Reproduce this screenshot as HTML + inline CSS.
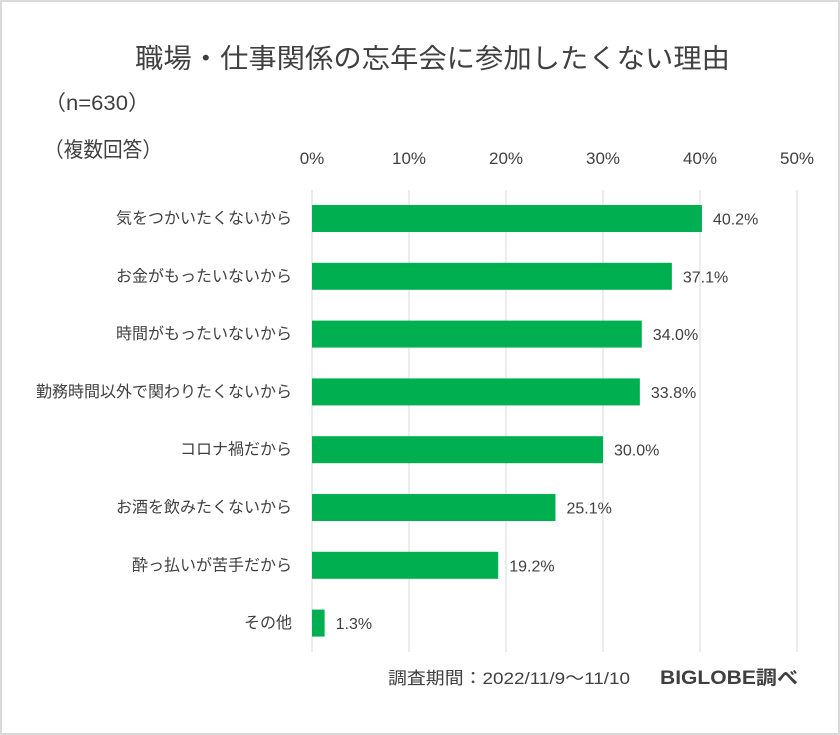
<!DOCTYPE html>
<html><head><meta charset="utf-8"><style>
html,body{margin:0;padding:0;background:#fff;}
svg{display:block;font-family:"Liberation Sans","Noto Sans CJK JP",sans-serif;}
</style></head><body>
<svg id="chart" width="840" height="735" viewBox="0 0 840 735">
<rect x="1" y="1" width="838" height="733" fill="#fff" stroke="#d9d9d9" stroke-width="2"/>
<text x="135" y="68" textLength="595" lengthAdjust="spacingAndGlyphs" font-size="27" fill="#404040">職場・仕事関係の忘年会に参加したくない理由</text>
<text x="44" y="110" textLength="106" lengthAdjust="spacingAndGlyphs" font-size="21" fill="#404040">（n=630）</text>
<text x="44" y="157" textLength="118" lengthAdjust="spacingAndGlyphs" font-size="21" fill="#404040">（複数回答）</text>
<g id="grid"></g><g id="bars"></g>
<text x="388" y="684" textLength="242" lengthAdjust="spacingAndGlyphs" font-size="17" fill="#404040">調査期間：2022/11/9～11/10</text>
<text x="660" y="684" textLength="138" lengthAdjust="spacingAndGlyphs" font-size="19" font-weight="bold" fill="#404040">BIGLOBE調べ</text>
</svg>
<script>
const categories=["気をつかいたくないから","お金がもったいないから","時間がもったいないから","勤務時間以外で関わりたくないから","コロナ禍だから","お酒を飲みたくないから","酔っ払いが苦手だから","その他"];
const values=[40.2,37.1,34.0,33.8,30.0,25.1,19.2,1.3];
const ticks=[0,10,20,30,40,50];
const NS="http://www.w3.org/2000/svg";
const gx0=312,gx1=797,gTop=190,gBottom=652,rowStep=57.8,firstC=218.5,bh=27;
const xs=v=>gx0+(v/50)*(gx1-gx0);
const yc=i=>firstC+i*rowStep;
function mk(t,a,p){const e=document.createElementNS(NS,t);for(const k in a)e.setAttribute(k,a[k]);p.appendChild(e);return e;}
const g=document.getElementById('grid'),b=document.getElementById('bars');
ticks.forEach(t=>{
 const l=mk('line',{x1:xs(t),x2:xs(t),y1:gTop,y2:gBottom,stroke:'#d9d9d9','stroke-width':1},g);
 
 
 const tx=mk('text',{x:xs(t),y:164,'text-anchor':'middle','font-size':17,fill:'#404040'},g);
 tx.textContent=t+'%';
 
 
});
categories.forEach((c,i)=>{
 const r=mk('rect',{x:gx0,y:yc(i)-bh/2,width:xs(values[i])-gx0,height:bh,fill:'#00b050'},b);
 
 
 const lb=mk('text',{x:292,y:yc(i)+5,'text-anchor':'end','font-size':16,fill:'#404040'},b);
 lb.textContent=c;
 
 
 const v=mk('text',{x:xs(values[i])+11,y:yc(i)+6,'font-size':16,fill:'#404040'},b);
 v.textContent=values[i].toFixed(1)+'%';
 
 
});
</script>
</body></html>
